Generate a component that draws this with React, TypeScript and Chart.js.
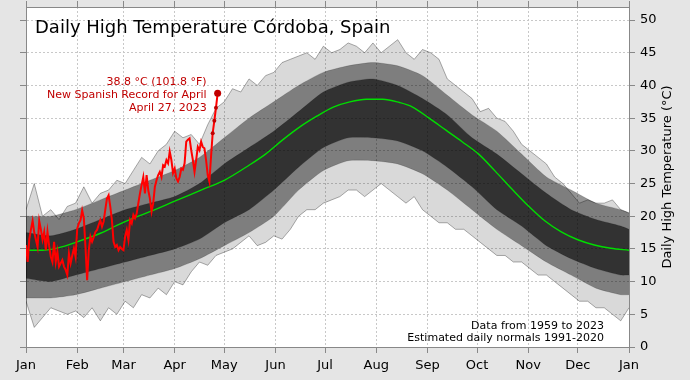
import React, { useEffect, useRef } from "react";
import { Chart, registerables } from "chart.js";

Chart.register(...registerables);

// ---------- data ----------
const MONTH_LABELS = ["Jan", "Feb", "Mar", "Apr", "May", "Jun", "Jul", "Aug", "Sep", "Oct", "Nov", "Dec", "Jan"];
const MONTH_START_DAYS = [0, 31, 59, 90, 120, 151, 181, 212, 243, 273, 304, 334, 365];
const Y_TICKS = [0, 5, 10, 15, 20, 25, 30, 35, 40, 45, 50];

// 2023 daily highs, Jan 1 (day 0) .. Apr 27 (day 116)
const TEMP_2023 = [
  15.6, 13.0, 16.5, 18.0, 19.3, 17.5, 16.4, 15.3, 19.3, 18.0,
  16.4, 17.6, 14.8, 17.6, 15.5, 13.8, 13.0, 16.1, 13.0, 14.6,
  12.3, 12.8, 13.3, 12.3, 11.8, 11.0, 14.3, 12.8, 14.0, 15.1,
  13.8, 18.1, 18.9, 19.4, 20.9, 19.7, 15.3, 10.2, 14.8, 16.9,
  16.1, 16.8, 17.6, 17.9, 18.7, 19.4, 18.4, 19.2, 21.0, 22.7,
  23.2, 21.5, 19.4, 16.1, 15.3, 15.6, 14.8, 15.3, 15.0, 14.8,
  16.9, 17.9, 16.4, 19.4, 18.9, 20.2, 19.7, 20.4, 22.0, 23.5,
  24.8, 26.0, 23.5, 26.3, 24.0, 22.7, 20.7, 22.0, 24.5, 25.5,
  26.3, 26.8, 26.0, 27.8, 27.6, 28.6, 28.1, 29.9, 28.6, 26.6,
  27.3, 25.8, 25.3, 26.0, 27.3, 27.1, 28.1, 31.4, 31.7, 31.9,
  30.1, 28.6, 26.8, 28.6, 30.6, 30.1, 31.4, 30.6, 30.4, 28.6,
  26.3, 25.3, 29.1, 32.7, 34.6, 36.6, 38.8,
];

// Estimated daily normals 1991-2020
const NORMAL_DAYS = [0, 10, 20, 30, 45, 55, 65, 77, 90, 107, 120, 135, 145, 155, 166, 176, 186, 196, 206, 216, 226, 234, 244, 254, 264, 274, 284, 294, 304, 314, 324, 334, 344, 354, 365];
const NORMAL_TEMPS = [14.8, 14.8, 15.2, 16.0, 17.4, 18.6, 19.7, 20.9, 22.3, 24.1, 25.5, 27.8, 29.5, 31.6, 33.7, 35.3, 36.7, 37.5, 37.9, 37.9, 37.4, 36.7, 35.0, 33.2, 31.4, 29.5, 26.9, 24.2, 21.6, 19.3, 17.6, 16.4, 15.6, 15.1, 14.8];

// 1959-2023 spread: extreme envelope (every 5 days)
const ENVELOPE_DAYS = [
  0, 5, 10, 15, 20, 25, 30, 35, 40, 45, 50, 55, 60, 65, 70, 75, 80, 85, 90, 95,
  100, 105, 110, 115, 120, 125, 130, 135, 140, 145, 150, 155, 160, 165, 170, 175, 180, 185, 190, 195,
  200, 205, 210, 215, 220, 225, 230, 235, 240, 245, 250, 255, 260, 265, 270, 275, 280, 285, 290, 295,
  300, 305, 310, 315, 320, 325, 330, 335, 340, 345, 350, 355, 360, 365,
];
const MAX_TEMPS = [
  21, 25, 20, 21, 19.5, 21.5, 22, 24.5, 22, 23.5, 24, 25.5, 25, 27, 29, 28, 30, 31, 33, 32,
  32.5, 31, 34, 36.5, 37.5, 39.5, 39, 41, 40, 41.5, 42, 43.5, 44, 44.5, 45, 44, 46, 45, 45.5, 46.5,
  46, 45, 46.5, 45, 46, 47, 45, 44, 45.5, 45, 44, 41, 40, 39, 38, 36, 36.5, 35, 34.5, 33,
  31, 30, 29, 28, 26, 25, 23.5, 22, 22.5, 22, 22, 22.5, 21, 20.5,
];
const MIN_TEMPS = [
  7, 3, 4.5, 6, 5.5, 5, 5.5, 4.5, 6, 4, 6, 5, 7, 6, 8, 7.5, 9, 8, 10, 9.5,
  11.5, 13, 12.5, 14, 14.5, 15, 16, 17, 15.5, 16, 17, 16.5, 18, 20, 21, 21, 22, 22.5, 23, 24,
  24, 23, 24, 25, 24, 23, 22, 23, 21, 20, 19, 19, 18, 18, 17, 16, 15, 14, 14, 13,
  13, 12, 11, 11, 10, 9, 8, 7, 7, 6, 6, 5, 4, 6,
];

// dense part of the spread (every 15 days)
const BAND_DAYS = [0, 15, 30, 45, 60, 75, 90, 105, 120, 135, 150, 165, 180, 195, 210, 225, 240, 255, 270, 285, 300, 315, 330, 345, 360, 365];
const OUTER_LOW = [7.5, 7.5, 8, 9, 10, 11, 12, 13.5, 15.5, 17.5, 20, 24, 27, 28.5, 28.5, 28, 26.5, 24, 21, 18, 15.5, 13, 11, 9, 8, 8];
const CORE_LOW = [10.5, 10, 11, 12, 13, 14, 15, 16.5, 19, 21, 24, 27.5, 30.5, 32, 32, 31.5, 30, 27.5, 24.5, 21, 18.5, 15.5, 13.5, 12, 11, 11];
const CORE_HIGH = [17.5, 17, 18, 19.5, 21, 22, 23, 25, 28, 30.5, 33, 36, 39, 40.5, 41, 40, 38, 35.5, 32, 29.5, 26.5, 23.5, 21, 19.5, 18.5, 18];
const OUTER_HIGH = [20, 20, 21, 22.5, 24, 25.5, 27, 29, 32, 35, 37.5, 40, 42, 43, 43.5, 43, 41.5, 38.5, 35.5, 33, 29.5, 26, 24, 22, 21, 20.5];

const TITLE = "Daily High Temperature Córdoba, Spain";
const Y_TITLE = "Daily High Temperature (°C)";
const RECORD_LINES = ["38.8 °C (101.8 °F)", "New Spanish Record for April", "April 27, 2023"];
const NOTE_LINES = ["Data from 1959 to 2023", "Estimated daily normals 1991-2020"];

const FONT = "'DejaVu Sans', 'Liberation Sans', sans-serif";

const pts = (xs: number[], ys: number[]) => ys.map((y, i) => ({ x: xs[i], y }));

const decorPlugin = {
  id: "decor",
  beforeDraw(chart: any) {
    const { ctx, chartArea: a, width, height } = chart;
    ctx.save();
    ctx.fillStyle = "#e5e5e5";
    ctx.fillRect(0, 0, width, height);
    ctx.fillStyle = "#ffffff";
    ctx.fillRect(a.left, a.top, a.right - a.left, a.bottom - a.top);
    ctx.restore();
  },
  afterDraw(chart: any) {
    const { ctx, chartArea: a } = chart;
    const xs = chart.scales.x;
    const ys = chart.scales.y;
    ctx.save();
    // title
    ctx.fillStyle = "#000";
    ctx.font = `18px ${FONT}`;
    ctx.textAlign = "left";
    ctx.textBaseline = "alphabetic";
    ctx.fillText(TITLE, a.left + 9, a.top + 26);

    // record annotation
    const lastIdx = TEMP_2023.length - 1;
    const px = xs.getPixelForValue(lastIdx);
    const py = ys.getPixelForValue(TEMP_2023[lastIdx]);
    ctx.fillStyle = "#c00000";
    ctx.font = `11px ${FONT}`;
    ctx.textAlign = "right";
    RECORD_LINES.forEach((t, i) => ctx.fillText(t, px - 11, py - 8 + i * 12.6));

    // note bottom right
    ctx.fillStyle = "#000";
    NOTE_LINES.forEach((t, i) => ctx.fillText(t, a.right - 25, a.bottom - 18.5 + i * 12.6));

    // right axis title (reads bottom to top)
    ctx.translate(668, (a.top + a.bottom) / 2);
    ctx.rotate(-Math.PI / 2);
    ctx.font = `13px ${FONT}`;
    ctx.textAlign = "center";
    ctx.textBaseline = "middle";
    ctx.fillText(Y_TITLE, 0, 0);
    ctx.restore();
  },
};

export default function App() {
  const ref = useRef<HTMLCanvasElement | null>(null);

  useEffect(() => {
    if (!ref.current) return;
    Chart.defaults.font.family = FONT;
    Chart.defaults.font.size = 13;
    const last = TEMP_2023.length - 1;
    const monthTicks = (s: any) => {
      s.ticks = MONTH_START_DAYS.map((v) => ({ value: v }));
    };
    const yTicks = (s: any) => {
      s.ticks = Y_TICKS.map((v) => ({ value: v }));
    };
    const fix = (w?: number, h?: number) => (s: any) => {
      if (w !== undefined) s.width = w;
      if (h !== undefined) s.height = h;
      s.paddingTop = 0;
      s.paddingBottom = 0;
      s.paddingLeft = 0;
      s.paddingRight = 0;
    };
    const chart = new Chart(ref.current, {
      type: "line",
      data: {
        datasets: [
          {
            label: "2023",
            data: pts(TEMP_2023.map((_, i) => i), TEMP_2023),
            borderColor: "#ff0000",
            borderWidth: 2,
            tension: 0,
            pointRadius: (c: any) => (c.dataIndex === last ? 3.5 : c.dataIndex >= last - 3 ? 2 : 0),
            pointBackgroundColor: "#c00000",
            pointBorderColor: "#c00000",
            pointBorderWidth: 0,
            fill: false,
          },
          {
            label: "Normal",
            data: pts(NORMAL_DAYS, NORMAL_TEMPS),
            borderColor: "#00dd00",
            borderWidth: 1.4,
            cubicInterpolationMode: "monotone",
            pointRadius: 0,
            fill: false,
          },
          {
            label: "core high",
            data: pts(BAND_DAYS, CORE_HIGH),
            borderColor: "rgba(0,0,0,0.25)",
            borderWidth: 0.6,
            backgroundColor: "rgba(0,0,0,0.6)",
            tension: 0.2,
            pointRadius: 0,
            fill: 3,
          },
          {
            label: "core low",
            data: pts(BAND_DAYS, CORE_LOW),
            borderColor: "rgba(0,0,0,0.25)",
            borderWidth: 0.6,
            tension: 0.2,
            pointRadius: 0,
            fill: false,
          },
          {
            label: "outer high",
            data: pts(BAND_DAYS, OUTER_HIGH),
            borderColor: "rgba(0,0,0,0.25)",
            borderWidth: 0.6,
            backgroundColor: "rgba(0,0,0,0.42)",
            tension: 0.2,
            pointRadius: 0,
            fill: 5,
          },
          {
            label: "outer low",
            data: pts(BAND_DAYS, OUTER_LOW),
            borderColor: "rgba(0,0,0,0.25)",
            borderWidth: 0.6,
            tension: 0.2,
            pointRadius: 0,
            fill: false,
          },
          {
            label: "max",
            data: pts(ENVELOPE_DAYS, MAX_TEMPS),
            borderColor: "rgba(0,0,0,0.4)",
            borderWidth: 0.8,
            backgroundColor: "rgba(0,0,0,0.15)",
            tension: 0,
            pointRadius: 0,
            fill: 7,
          },
          {
            label: "min",
            data: pts(ENVELOPE_DAYS, MIN_TEMPS),
            borderColor: "rgba(0,0,0,0.4)",
            borderWidth: 0.8,
            tension: 0,
            pointRadius: 0,
            fill: false,
          },
        ],
      },
      options: {
        animation: false,
        responsive: true,
        maintainAspectRatio: false,
        layout: { padding: 0 },
        events: [],
        plugins: {
          legend: { display: false },
          tooltip: { enabled: false },
          title: { display: false },
        },
        scales: {
          x: {
            type: "linear",
            position: "bottom",
            min: 0,
            max: 365,
            afterBuildTicks: monthTicks,
            afterFit: fix(undefined, 33),
            ticks: {
              autoSkip: false,
              maxRotation: 0,
              color: "#000",
              padding: 5,
              font: { size: 13 },
              callback: (v: any) => {
                const i = MONTH_START_DAYS.indexOf(Number(v));
                return i >= 0 ? MONTH_LABELS[i] : "";
              },
            },
            grid: { color: "#c8c8c8", lineWidth: 1, tickColor: "#888", tickLength: 6, tickWidth: 1 },
            border: { color: "#888", width: 1, dash: [2, 2] },
          },
          x2: {
            type: "linear",
            position: "top",
            min: 0,
            max: 365,
            afterBuildTicks: monthTicks,
            afterFit: fix(undefined, 7),
            ticks: { display: false },
            grid: { drawOnChartArea: false, tickColor: "#888", tickLength: 6, tickWidth: 1 },
            border: { color: "#888", width: 1 },
          },
          y: {
            type: "linear",
            position: "left",
            min: 0,
            max: 52,
            afterBuildTicks: yTicks,
            afterFit: fix(26, undefined),
            ticks: { display: false },
            grid: { color: "#c8c8c8", lineWidth: 1, tickColor: "#888", tickLength: 6, tickWidth: 1 },
            border: { color: "#888", width: 1, dash: [2, 2] },
          },
          y2: {
            type: "linear",
            position: "right",
            min: 0,
            max: 52,
            afterBuildTicks: yTicks,
            afterFit: fix(61, undefined),
            ticks: { color: "#000", padding: 5, font: { size: 13 } },
            grid: { drawOnChartArea: false, tickColor: "#888", tickLength: 6, tickWidth: 1 },
            border: { color: "#888", width: 1 },
          },
        },
      },
      plugins: [decorPlugin],
    } as any);
    return () => chart.destroy();
  }, []);

  return (
    <div style={{ position: "fixed", left: 0, top: 0, width: 690, height: 380 }}>
      <canvas ref={ref} />
    </div>
  );
}
